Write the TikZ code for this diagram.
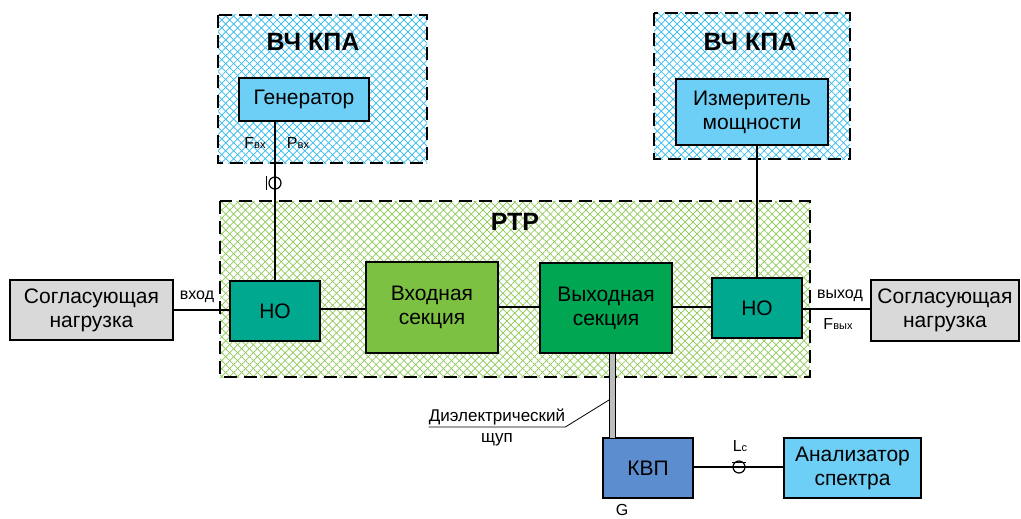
\documentclass[tikz,border=0pt]{standalone}
\usepackage{fontspec}
\setmainfont{Liberation Sans}
\usetikzlibrary{patterns.meta}

\definecolor{hatchblue}{RGB}{45,185,235}
\definecolor{hatchgreen}{RGB}{140,200,85}
\definecolor{genblue}{RGB}{110,207,246}
\definecolor{noteal}{RGB}{0,168,143}
\definecolor{ingreen}{RGB}{125,193,66}
\definecolor{outgreen}{RGB}{0,166,81}
\definecolor{kvpblue}{RGB}{92,141,206}
\definecolor{loadgray}{RGB}{217,217,217}
\definecolor{probegray}{RGB}{190,190,190}

\tikzset{
  blk/.style={draw=black, line width=1.4pt, inner sep=0pt, align=center,
    font=\fontsize{21}{24}\selectfont},
  zone/.style={draw=black, line width=1.8pt, dash pattern=on 13pt off 7pt},
  hatch/.style={pattern={Lines[angle=#1,distance=5.6pt,line width=0.7pt]}},
  ttl/.style={font=\bfseries\fontsize{25}{29}\selectfont},
  lbl/.style={font=\fontsize{16}{18}\selectfont, inner sep=1pt},
  wire/.style={line width=1.1pt},
}
\newcommand{\sml}[1]{{\fontsize{11}{12}\selectfont #1}}

\begin{document}
\begin{tikzpicture}[x=1pt,y=-1pt]
  \useasboundingbox (0,0) rectangle (1021,519);

  % zones
  \fill[hatch=45, pattern color=hatchblue] (218,15) rectangle (427,163);
  \fill[hatch=-45, pattern color=hatchblue] (218,15) rectangle (427,163);
  \draw[zone] (218,15) rectangle (427,163);
  \fill[hatch=45, pattern color=hatchblue] (654,13) rectangle (850,159);
  \fill[hatch=-45, pattern color=hatchblue] (654,13) rectangle (850,159);
  \draw[zone] (654,13) rectangle (850,159);
  \fill[hatch=45, pattern color=hatchgreen] (220,201) rectangle (810,377);
  \fill[hatch=-45, pattern color=hatchgreen] (220,201) rectangle (810,377);
  \draw[zone] (220,201) rectangle (810,377);

  \node[ttl] (kpa1) at (313,42) {ВЧ КПА};
  \node[ttl] (kpa2) at (750,42) {ВЧ КПА};
  \node[ttl] (rtr) at (515,222) {РТР};

  % blocks
  \node[blk, fill=genblue, minimum width=130, minimum height=43] (gen) at (304,99.5) {Генератор};
  \node[blk, fill=genblue, minimum width=152, minimum height=66] (meter) at (752,112) {Измеритель\\мощности};
  \node[blk, fill=noteal, minimum width=90, minimum height=60] (no1) at (275,311) {НО};
  \node[blk, fill=ingreen, minimum width=132, minimum height=91] (insec) at (432,307.5) {Входная\\секция};
  \node[blk, fill=outgreen, minimum width=132, minimum height=90] (outsec) at (606,308) {Выходная\\секция};
  \node[blk, fill=noteal, minimum width=90, minimum height=60] (no2) at (757,308) {НО};
  \node[blk, fill=loadgray, minimum width=163, minimum height=60] (loadl) at (91.5,310) {Согласующая\\нагрузка};
  \node[blk, fill=loadgray, minimum width=148, minimum height=61] (loadr) at (945,310.5) {Согласующая\\нагрузка};
  \node[blk, fill=kvpblue, minimum width=90, minimum height=60] (kvp) at (648,468) {КВП};
  \node[blk, fill=genblue, minimum width=137, minimum height=60] (an) at (852.5,468) {Анализатор\\спектра};

  % connectors
  \draw[wire] (loadl.east) -- (loadl.east -| no1.west);
  \draw[wire] (no1.east |- 0,309) -- (insec.west |- 0,309);
  \draw[wire] (insec.east |- 0,307) -- (outsec.west |- 0,307);
  \draw[wire] (outsec.east |- 0,307) -- (no2.west |- 0,307);
  \draw[wire] (no2.east |- 0,309) -- (loadr.west |- 0,309);
  \draw[wire] (no1.north) -- (no1.north |- gen.south);
  \draw[wire] (no2.north) -- (no2.north |- meter.south);
  \draw[wire] (kvp.east |- 0,467) -- (an.west |- 0,467);

  % coaxial joints
  \node[circle, draw, line width=1.2pt, minimum size=12pt, inner sep=0pt] (jgen) at (275,183) {};
  \draw[wire] ([xshift=-2pt]jgen.west) ++(0,-7) -- ++(0,14);
  \node[circle, draw, line width=1.2pt, minimum size=12pt, inner sep=0pt] (jlc) at (739,467) {};
  \draw[wire] ([yshift=-2pt]jlc.north) ++(-7,0) -- ++(14,0);

  % probe
  \filldraw[fill=probegray, draw=black, line width=1pt] (609,353) rectangle (615,438);
  \coordinate (ptip) at (609,400);
  \node[lbl, inner sep=0pt, align=center, font=\fontsize{17}{21}\selectfont] (plbl) at (497,427) {Диэлектрический\\щуп};
  \draw[line width=0.8pt] (plbl.west) -- (plbl.east) -- (ptip);

  % labels
  \node[lbl] (lin) at (197,297) {вход};
  \node[lbl] (lout) at (840,296) {выход};
  \node[lbl] (lfout) at (838,324) {F\sml{вых}};
  \node[lbl] (lfin) at (255,143) {F\sml{вх}};
  \node[lbl] (lpin) at (298,143) {P\sml{вх}};
  \node[lbl] (llc) at (740,446) {L\sml{c}};
  \node[lbl] (lg) at (622,510) {G};
\end{tikzpicture}
\end{document}
